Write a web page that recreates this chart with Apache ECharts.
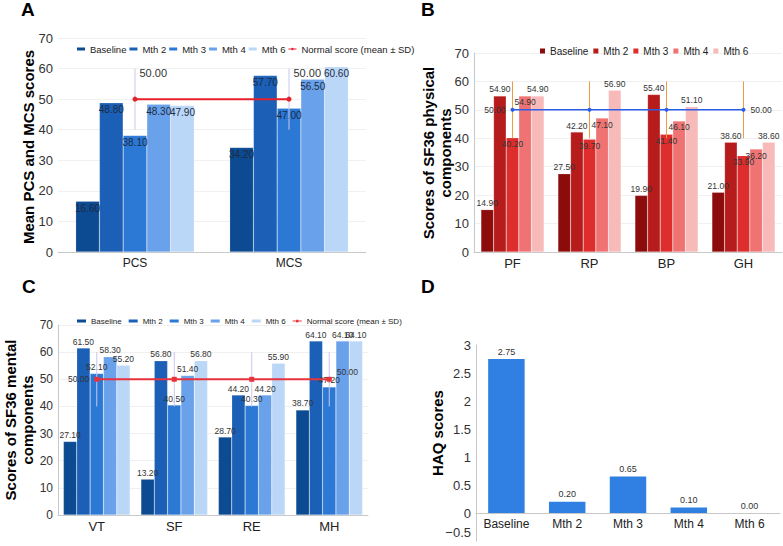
<!DOCTYPE html>
<html>
<head>
<meta charset="utf-8">
<script src="https://cdn.jsdelivr.net/npm/echarts@6/dist/echarts.min.js"></script>
<style>
  html, body { margin: 0; padding: 0; background: #fff; }
  .panel { position: absolute; left: 0; top: 0; width: 783px; height: 546px; }
</style>
</head>
<body>
<div id="chart-a" class="panel"></div>
<div id="chart-b" class="panel"></div>
<div id="chart-c" class="panel"></div>
<div id="chart-d" class="panel"></div>
<div id="legend-a" class="panel"></div>
<div id="legend-b" class="panel"></div>
<div id="legend-c" class="panel"></div>
<script>
var names = ['Baseline', 'Mth 2', 'Mth 3', 'Mth 4', 'Mth 6'];
var normalName = 'Normal score (mean ± SD)';

// A: PCS / MCS
var catsA = ['PCS', 'MCS'];
var baselineA = [16.6, 34.2];
var mth2A = [48.8, 57.7];
var mth3A = [38.1, 47.0];
var mth4A = [48.3, 56.5];
var mth6A = [47.9, 60.6];
var normalA = [50, 50];
var sdA = [10, 10];

// B: SF36 physical
var catsB = ['PF', 'RP', 'BP', 'GH'];
var baselineB = [14.9, 27.5, 19.9, 21.0];
var mth2B = [54.9, 42.2, 55.4, 38.6];
var mth3B = [40.2, 39.7, 41.4, 33.9];
var mth4B = [54.9, 47.1, 46.1, 36.2];
var mth6B = [54.9, 56.9, 51.1, 38.6];
var normalB = [50, 50, 50, 50];
var sdB = [10, 10, 10, 10];

// C: SF36 mental
var catsC = ['VT', 'SF', 'RE', 'MH'];
var baselineC = [27.1, 13.2, 28.7, 38.7];
var mth2C = [61.5, 56.8, 44.2, 64.1];
var mth3C = [52.1, 40.5, 40.3, 47.2];
var mth4C = [58.3, 51.4, 44.2, 64.1];
var mth6C = [55.2, 56.8, 55.9, 64.1];
var normalC = [50, 50, 50, 50];
var sdC = [10, 10, 10, 10];

// D: HAQ
var catsD = ['Baseline', 'Mth 2', 'Mth 3', 'Mth 4', 'Mth 6'];
var haqD = [2.75, 0.20, 0.65, 0.10, 0.00];

var font = 'Liberation Sans, Arial, sans-serif';
var blues = ['#0c4a91', '#1b5fb6', '#2b78d5', '#69a2ea', '#bbd7f7'];
var reds = ['#8c0b0b', '#b71c1c', '#de2d2d', '#f07373', '#f8b9b9'];

function fmt(p) { return Number(p.value).toFixed(2); }

function barSeries(name, data, color, pos, size, labelColor, barCat) {
  return {
    type: 'bar', name: name, data: data, barGap: '0%', barCategoryGap: barCat,
    itemStyle: { color: color, borderColor: 'rgba(255,255,255,0.35)', borderWidth: 0.5 },
    label: { show: true, position: pos, distance: 2, formatter: fmt,
      fontFamily: font, fontSize: size, color: labelColor }
  };
}

function errorBars(means, sds, color) {
  return {
    type: 'custom', name: 'sd', silent: true, z: 4,
    encode: { x: 0, y: [1, 2] },
    renderItem: function(params, api) {
      var lo = api.coord([api.value(0), api.value(1)]);
      var hi = api.coord([api.value(0), api.value(2)]);
      return { type: 'line', shape: { x1: lo[0], y1: lo[1], x2: hi[0], y2: hi[1] },
        style: { stroke: color, lineWidth: 1 } };
    },
    data: means.map(function(m, i) { return [i, m - sds[i], m + sds[i]]; })
  };
}

function normalLine(means, color, symbol, size, width, labels, fontSize) {
  return {
    type: 'line', name: normalName, z: 5, symbol: symbol, symbolSize: size,
    lineStyle: { color: color, width: width }, itemStyle: { color: color },
    data: means.map(function(m, i) {
      var l = labels[i];
      return { value: m, label: l ? { show: true, position: l[0], offset: l[1] } : { show: false } };
    }),
    label: { formatter: fmt, fontFamily: font, fontSize: fontSize, color: '#333' }
  };
}

function yAxis(min, max, interval, labelSize, showLine) {
  return {
    type: 'value', min: min, max: max, interval: interval,
    axisLine: { show: showLine, lineStyle: { color: '#c8c8c8' } },
    axisTick: { show: false },
    axisLabel: { fontFamily: font, fontSize: labelSize, color: '#333', margin: 5 },
    splitLine: { lineStyle: { color: '#f0f0f0' } }
  };
}

function xAxis(cats, size) {
  return {
    type: 'category', data: cats,
    axisLine: { onZero: false, lineStyle: { color: '#c8c8c8' } },
    axisTick: { show: false },
    axisLabel: { fontFamily: font, fontSize: size, color: '#222', margin: 5 }
  };
}

function grid(l, t, w, h) {
  return { left: l, top: t, width: w, height: h, outerBoundsMode: 'none', containLabel: false };
}

function letter(t, x, y) {
  return { type: 'text', left: x, top: y,
    style: { text: t, fontFamily: font, fontSize: 19, fontWeight: 'bold', fill: '#000' } };
}

// rotated axis title
function yTitle(t, x, y) {
  return { type: 'text', x: x, y: y, rotation: Math.PI / 2,
    style: { text: t, fontFamily: font, fontSize: 15, fontWeight: 'bold', fill: '#000',
      lineHeight: 17, align: 'center', verticalAlign: 'middle' } };
}

var lineIcon = 'path://M0,1h3v1h-3zM6,1h3v1h-3zM4.5,0a1.5,1.5 0 1 1 0,3a1.5,1.5 0 1 1 0,-3z';

// legends live in their own instances so they do not disturb the grids
function legendChart(id, colors, normalColor, legendOpt) {
  var ch = echarts.init(document.getElementById(id), null, { renderer: 'svg' });
  var series = names.map(function(n, i) {
    return { type: 'custom', name: n, coordinateSystem: 'none', data: [],
      renderItem: function() { return null; }, itemStyle: { color: colors[i] } };
  });
  var data = names.slice();
  if (normalColor) {
    series.push({ type: 'custom', name: normalName, coordinateSystem: 'none', data: [],
      renderItem: function() { return null; }, itemStyle: { color: normalColor } });
    data = names.map(function(n) { return { name: n, icon: 'rect' }; })
      .concat([{ name: normalName, icon: lineIcon }]);
  }
  legendOpt.data = data;
  ch.setOption({ animation: false, legend: legendOpt, series: series });
  return ch;
}

// ---- A ----
var chartA = echarts.init(document.getElementById('chart-a'), null, { renderer: 'svg' });
var seriesA = [baselineA, mth2A, mth3A, mth4A, mth6A].map(function(d, i) {
  return barSeries(names[i], d, blues[i], 'insideTop', 10, '#1c2b45', '23%');
});
seriesA.push(errorBars(normalA, sdA, '#c9c6ee'));
seriesA.push(normalLine(normalA, '#e4202a', 'circle', 5, 2,
  [['right', [-3, -26]], ['right', [-3, -26]]], 11));
chartA.setOption({
  animation: false,
  graphic: [letter('A', 21, 0), yTitle('Mean PCS and MCS scores', 28, 147)],
  grid: grid(58, 38, 308, 214),
  xAxis: xAxis(catsA, 12),
  yAxis: yAxis(0, 70, 10, 13, false),
  series: seriesA
});
legendChart('legend-a', blues, '#e4202a', {
  left: 72, top: 39, itemWidth: 8, itemHeight: 3, itemGap: 3,
  textStyle: { fontFamily: font, fontSize: 9.5, color: '#222' }
});

// ---- B ----
var chartB = echarts.init(document.getElementById('chart-b'), null, { renderer: 'svg' });
var posB = ['top', 'top', 'insideTop', 'insideTop', 'top'];
var seriesB = [baselineB, mth2B, mth3B, mth4B, mth6B].map(function(d, i) {
  return barSeries(names[i], d, reds[i], posB[i], 8.5, '#333', '18%');
});
seriesB.push(errorBars(normalB, sdB, '#ef9a45'));
seriesB.push(normalLine(normalB, '#2a5ee8', 'circle', 4, 1.5,
  [['left', [0, 0]], null, null, ['right', [0, 0]]], 8.5));
chartB.setOption({
  animation: false,
  graphic: [letter('B', 421, 0), yTitle('Scores of SF36 physical\ncomponents', 437, 153)],
  grid: grid(474, 53, 308, 199),
  xAxis: xAxis(catsB, 13),
  yAxis: yAxis(0, 70, 10, 13, true),
  series: seriesB
});
legendChart('legend-b', reds, null, {
  left: 535, top: 41, itemWidth: 5, itemHeight: 5, itemGap: 5, icon: 'rect',
  textStyle: { fontFamily: font, fontSize: 10, color: '#222' }
});

// ---- C ----
var chartC = echarts.init(document.getElementById('chart-c'), null, { renderer: 'svg' });
var seriesC = [baselineC, mth2C, mth3C, mth4C, mth6C].map(function(d, i) {
  return barSeries(names[i], d, blues[i], 'top', 8.5, '#333', '14%');
});
seriesC.push(errorBars(normalC, sdC, '#c9c6ee'));
seriesC.push(normalLine(normalC, '#e8333d', 'rect', 5, 2,
  [['left', [0, 0]], null, null, ['right', [0, -7]]], 8.5));
chartC.setOption({
  animation: false,
  graphic: [letter('C', 22, 277), yTitle('Scores of SF36 mental\ncomponents', 19, 420)],
  grid: grid(58, 325, 310, 190),
  xAxis: xAxis(catsC, 13),
  yAxis: yAxis(0, 70, 10, 12, true),
  series: seriesC
});
legendChart('legend-c', blues, '#e8333d', {
  left: 72, top: 312, itemWidth: 9, itemHeight: 3, itemGap: 7,
  textStyle: { fontFamily: font, fontSize: 8, color: '#222' }
});

// ---- D ----
var chartD = echarts.init(document.getElementById('chart-d'), null, { renderer: 'svg' });
var xD = xAxis(catsD, 12);
xD.offset = -28; // axis sits on the zero line
var yD = yAxis(-0.5, 3, 0.5, 13, true);
yD.splitLine = { show: false };
yD.axisLabel.formatter = function(v) {
  return v < 0 ? '{neg|\u2212' + Math.abs(v) + '}' : String(v);
};
yD.axisLabel.rich = { neg: { fontFamily: font, fontSize: 13, color: '#333', padding: [0, 0, 18, 0] } };
chartD.setOption({
  animation: false,
  graphic: [letter('D', 421, 277), yTitle('HAQ scores', 437, 433)],
  grid: grid(476, 345, 304, 196),
  xAxis: xD,
  yAxis: yD,
  series: [{
    type: 'bar', name: 'HAQ', data: haqD, barCategoryGap: '40%',
    itemStyle: { color: '#2f80e2' },
    label: { show: true, position: 'top', distance: 3, formatter: fmt,
      fontFamily: font, fontSize: 9, color: '#333' }
  }]
});
</script>
</body>
</html>
